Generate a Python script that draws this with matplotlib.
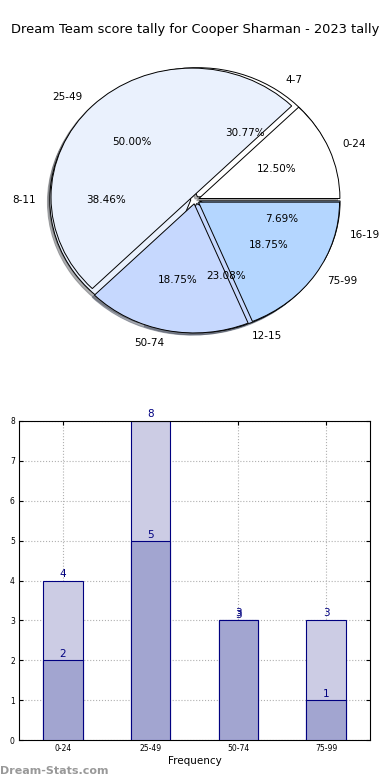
import numpy as np
import matplotlib
matplotlib.use("Agg")
import matplotlib.pyplot as plt

# datos del grafico circular
rangos_puntos = ["0-24", "25-49", "50-74", "75-99"]
conteo_puntos = [2, 8, 3, 3]
rangos_goles = ["4-7", "8-11", "12-15", "16-19"]
conteo_goles = [4, 5, 3, 1]

# datos de barras
barras_etiquetas = ["0-24", "25-49", "50-74", "75-99"]
barras_total = [4, 8, 3, 3]
barras_parcial = [2, 5, 3, 1]

titulo = "Dream Team score tally for Cooper Sharman - 2023 tally"

fig = plt.figure(figsize=(3.9, 7.8), dpi=100)
fig.text(0.5, 1 - 30 / 780, titulo, ha="center", va="center", fontsize=9.4)

# Pie (ligeramente achatado como el original)
ax1 = fig.add_axes([0, 1 - 395 / 780, 1, 390 / 780])
colores_puntos = ["#ffffff", "#eaf1fd", "#c6d8fe", "#b4d6ff"]
colores_goles = ["#ffffff", "#eaf1fd", "#c6d8fe", "#b4d6ff"]
sombra = dict(ox=-0.012, oy=-0.012, shade=0.6)

ax1.pie(conteo_goles, labels=rangos_goles, colors=colores_goles,
        explode=[0.03] * 4, shadow=sombra, autopct="%1.2f%%",
        wedgeprops=dict(edgecolor="black", linewidth=0.7),
        textprops=dict(fontsize=7.5))
ax1.pie(conteo_puntos, labels=rangos_puntos, colors=colores_puntos,
        explode=[0.03] * 4, shadow=sombra, autopct="%1.2f%%",
        wedgeprops=dict(edgecolor="black", linewidth=0.7),
        textprops=dict(fontsize=7.5))
ax1.set_aspect("auto")
ax1.set_xlim(-1.383, 1.383)
ax1.set_ylim(-1.51, 1.51)
ax1.axis("off")

# Barras
ax2 = fig.add_axes([19 / 390, 40 / 780, 351 / 390, 319 / 780])
x = np.arange(len(barras_etiquetas))
ancho = 0.45
ax2.bar(x, barras_total, ancho, color="#ccccE4", edgecolor="#000080", linewidth=0.8, zorder=2)
ax2.bar(x, barras_parcial, ancho, color="#a2a5d0", edgecolor="#000080", linewidth=0.8, zorder=3)
for i in range(len(x)):
    ax2.text(x[i], barras_total[i] + 0.05, str(barras_total[i]), ha="center", va="bottom",
             color="#000080", fontsize=7.5, zorder=4)
    ax2.text(x[i], barras_parcial[i] + 0.02, str(barras_parcial[i]), ha="center", va="bottom",
             color="#000080", fontsize=7.5, zorder=4)

ax2.set_xlim(-0.5, 3.5)
ax2.set_ylim(0, 8)
ax2.set_xticks(x)
ax2.set_xticklabels(barras_etiquetas)
ax2.set_yticks(range(0, 9))
ax2.tick_params(labelsize=5.5, direction="in", top=True, right=True, length=3, pad=3)
ax2.grid(True, linestyle=":", color="#b0b0b0", linewidth=0.8, zorder=0)
ax2.set_axisbelow(True)
ax2.set_xlabel("Frequency", fontsize=7.5, labelpad=2)

fig.text(0.0, 1 - 771 / 780, "Dream-Stats.com", color="#999999", fontsize=8,
         fontweight="bold", ha="left", va="center")

fig.savefig("out.png", dpi=100)
